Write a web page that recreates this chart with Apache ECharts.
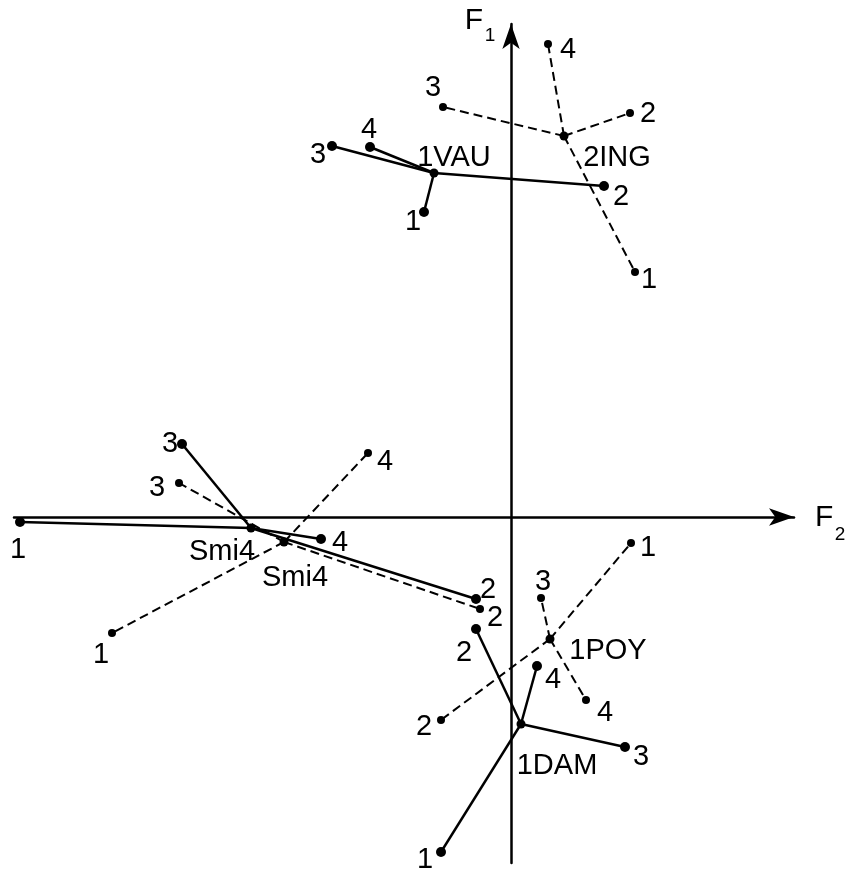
<!DOCTYPE html>
<html>
<head>
<meta charset="utf-8">
<script src="https://cdn.jsdelivr.net/npm/echarts@6/dist/echarts.min.js"></script>
<style>
  html, body { margin: 0; padding: 0; background: #fff; }
  #chart { width: 847px; height: 870px; }
</style>
</head>
<body>
<div id="chart"></div>
<script>
// Star plot on the first factorial plane (F2 horizontal, F1 vertical).
// Each star: a group centre joined to its four individual points.
const groupNames = ['1VAU', '2ING', 'Smi4', 'Smi4', '1POY', '1DAM'];
const centerF2 = [-0.77, 0.53, -2.60, -2.27, 0.39, 0.10];
const centerF1 = [3.44, 3.81, -0.11, -0.25, -1.22, -2.07];
const pointF2 = [
  [-0.87, 0.93, -1.79, -1.41],
  [1.24, 1.19, -0.68, 0.37],
  [-4.91, -0.35, -3.29, -1.90],
  [-3.99, -0.31, -3.32, -1.43],
  [1.20, -0.70, 0.30, 0.75],
  [-0.70, -0.35, 1.14, 0.26]
];
const pointF1 = [
  [3.05, 3.31, 3.71, 3.70],
  [2.45, 4.04, 4.10, 4.73],
  [-0.05, -0.82, 0.73, -0.22],
  [-1.16, -0.92, 0.34, 0.64],
  [-0.26, -2.03, -0.81, -1.83],
  [-3.35, -1.12, -2.30, -1.49]
];
const pointLabels = ['1', '2', '3', '4'];
const axisTitles = { x: ['F', '2'], y: ['F', '1'] };

// Drawing styles
const dashedGroup = [false, true, false, true, true, false];
const centerLabelOffset = [[20, -15], [53, 22], [-29, 24], [11, 36], [58, 12], [36, 42]];
const pointLabelOffset = [
  [[-11, 10], [17, 11], [-14, 9], [-1, -17]],
  [[14, 8], [18, 1], [-10, -19], [20, 6]],
  [[-2, 28], [12, -9], [-12, 0], [19, 4]],
  [[-11, 22], [15, 9], [-22, 5], [17, 9]],
  [[17, 5], [-17, 7], [2, -16], [19, 13]],
  [[-16, 8], [-12, 24], [16, 10], [16, 14]]
];
const FONT = "'Liberation Sans', Arial, Helvetica, sans-serif";
const LABEL_SIZE = 29;

const X_MIN = -4.97, X_MAX = 2.83, Y_MIN = -3.46, Y_MAX = 4.93;

const series = [];
groupNames.forEach(function (name, i) {
  const dashed = dashedGroup[i];
  const c = [centerF2[i], centerF1[i]];
  series.push({
    type: 'lines',
    coordinateSystem: 'cartesian2d',
    polyline: false,
    silent: true,
    z: 3,
    lineStyle: { color: '#000', width: dashed ? 2 : 2.5, type: dashed ? [9, 5] : 'solid', opacity: 1, curveness: 0 },
    data: pointF2[i].map(function (x, j) {
      return { coords: [c, [x, pointF1[i][j]]] };
    })
  });
  series.push({
    type: 'scatter',
    z: 4,
    symbol: 'circle',
    symbolSize: dashed ? 8 : 10,
    itemStyle: { color: '#000', opacity: 1 },
    label: {
      show: true,
      position: 'inside',
      color: '#000',
      fontFamily: FONT,
      fontSize: LABEL_SIZE,
      align: 'center',
      verticalAlign: 'middle',
      formatter: function (p) { return pointLabels[p.dataIndex]; }
    },
    data: pointF2[i].map(function (x, j) {
      return { value: [x, pointF1[i][j]], label: { offset: pointLabelOffset[i][j] } };
    })
  });
});

series.push({
  type: 'scatter',
  z: 5,
  symbol: 'circle',
  symbolSize: 9,
  itemStyle: { color: '#000', opacity: 1 },
  label: {
    show: true,
    position: 'inside',
    color: '#000',
    fontFamily: FONT,
    fontSize: LABEL_SIZE,
    align: 'center',
    verticalAlign: 'middle',
    formatter: function (p) { return p.name; }
  },
  data: groupNames.map(function (name, i) {
    return { name: name, value: [centerF2[i], centerF1[i]], label: { offset: centerLabelOffset[i] } };
  })
});

function axisLine() {
  return {
    show: true,
    onZero: true,
    symbol: ['none', 'arrow'],
    symbolSize: [13, 25],
    lineStyle: { color: '#000', width: 2.5 }
  };
}

const chart = echarts.init(document.getElementById('chart'), null, { renderer: 'canvas' });
chart.setOption({
  animation: false,
  backgroundColor: '#fff',
  grid: { left: 14, right: 53, top: 24, bottom: 7, containLabel: false },
  xAxis: {
    type: 'value', min: X_MIN, max: X_MAX,
    splitLine: { show: false }, axisTick: { show: false }, axisLabel: { show: false },
    axisLine: axisLine()
  },
  yAxis: {
    type: 'value', min: Y_MIN, max: Y_MAX,
    splitLine: { show: false }, axisTick: { show: false }, axisLabel: { show: false },
    axisLine: axisLine()
  },
  series: series
});

// Axis titles with subscripts, anchored at the ends of the two axes.
const xEnd = chart.convertToPixel({ gridIndex: 0 }, [X_MAX, 0]);
const yEnd = chart.convertToPixel({ gridIndex: 0 }, [0, Y_MAX]);
function titleText(str, x, y, size, align) {
  return {
    type: 'text', silent: true, z: 10,
    x: x, y: y,
    style: {
      text: str, fill: '#000',
      fontSize: size, fontFamily: FONT,
      align: align, verticalAlign: 'middle'
    }
  };
}
chart.setOption({
  graphic: [
    titleText(axisTitles.x[0], xEnd[0] + 21, xEnd[1] + 1, 30, 'left'),
    titleText(axisTitles.x[1], xEnd[0] + 46, xEnd[1] + 18, 19, 'center'),
    titleText(axisTitles.y[0], yEnd[0] - 37, yEnd[1] - 3, 30, 'center'),
    titleText(axisTitles.y[1], yEnd[0] - 21, yEnd[1] + 12, 19, 'center')
  ]
});
</script>
</body>
</html>
